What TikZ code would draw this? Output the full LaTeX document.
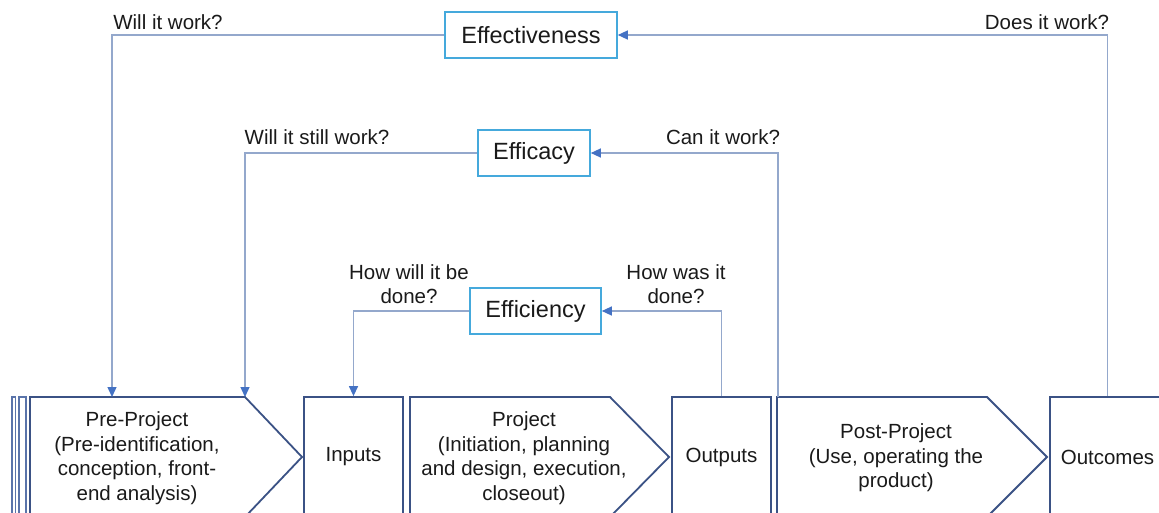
\documentclass[tikz,border=0pt]{standalone}
\usepackage{fontspec}
\setmainfont{Liberation Sans}
\usetikzlibrary{arrows.meta}

\definecolor{navy}{HTML}{3B5285}
\definecolor{stack}{HTML}{5A74AA}
\definecolor{feed}{HTML}{94A8CC}
\definecolor{tipblue}{HTML}{4472C4}
\definecolor{cyanbox}{HTML}{45A9DC}
\definecolor{ink}{HTML}{1A1A1A}

\tikzset{
  flow/.style={draw=navy, line width=1.8pt, fill=white},
  flowbox/.style={flow, rectangle, inner sep=0pt, minimum height=120pt,
    font=\fontsize{20.5}{24.5}\selectfont, text=ink, align=center},
  measure/.style={draw=cyanbox, line width=1.6pt, fill=white, rectangle,
    inner sep=0pt, minimum height=46pt,
    font=\fontsize{23.5}{28}\selectfont, text=ink},
  fb/.style={draw=feed, line width=1.3pt,
    -{Triangle[length=10pt,width=9pt,color=tipblue]}},
  lbl/.style={font=\fontsize{20.5}{24.5}\selectfont, text=ink,
    align=center, inner sep=0pt},
}

\begin{document}
\begin{tikzpicture}[x=1pt,y=-1pt]
  \clip (0,0) rectangle (1159,512);
  \fill[white] (0,0) rectangle (1159,512);

  % stacked edges of earlier phases
  \draw[stack, line width=1.2pt] (12,520) -- (12,397) -- (15.5,397) -- (15.5,520);
  \draw[stack, line width=1.2pt] (19,520) -- (19,397) -- (26,397) -- (26,520);

  % process chain
  \draw[flow] (30,397) -- (245,397) -- (302,457) -- (245,517) -- (30,517) -- cycle;
  \node[lbl] (pre) at (137,458) {Pre-Project\\(Pre-identification,\\conception, front-\\end analysis)};

  \node[flowbox, minimum width=99pt] (inputs) at (353.5,457) {Inputs};

  \draw[flow] (410,397) -- (610,397) -- (669,457) -- (610,517) -- (410,517) -- cycle;
  \node[lbl] (proj) at (524,458) {Project\\(Initiation, planning\\and design, execution,\\closeout)};

  \node[flowbox, minimum width=99pt] (outputs) at (721.5,457) {Outputs};

  \draw[flow] (777,397) -- (987,397) -- (1047,457) -- (987,517) -- (777,517) -- cycle;
  \node[lbl] (post) at (896,458) {Post-Project\\(Use, operating the\\product)};

  \node[flowbox, minimum width=115pt] (outcomes) at (1107.5,457) {Outcomes};

  % entry points on the chain
  \coordinate (preA) at (112,397);
  \coordinate (preB) at (245,397);
  \coordinate (postL) at (778,397);

  % evaluation criteria
  \node[measure, minimum width=172pt] (effect) at (531,35) {Effectiveness};
  \node[measure, minimum width=112pt] (efficacy) at (534,153) {Efficacy};
  \node[measure, minimum width=131pt] (efficiency) at (535.5,311) {Efficiency};

  % feedback loops
  \draw[fb] (outcomes.north) |- (effect.east);
  \draw[fb] (effect.west) -| (preA);
  \draw[fb] (postL) |- (efficacy.east);
  \draw[fb] (efficacy.west) -| (preB);
  \draw[fb] (outputs.north) |- (efficiency.east);
  \draw[fb] (efficiency.west) -| (inputs.north);

  % questions
  \node[lbl] (q1) at (168,22) {Will it work?};
  \node[lbl] (q2) at (1047,22) {Does it work?};
  \node[lbl] (q3) at (317,137) {Will it still work?};
  \node[lbl] (q4) at (723,137) {Can it work?};
  \node[lbl] (q5) at (409,284) {How will it be\\done?};
  \node[lbl] (q6) at (676,284) {How was it\\done?};
\end{tikzpicture}
\end{document}
